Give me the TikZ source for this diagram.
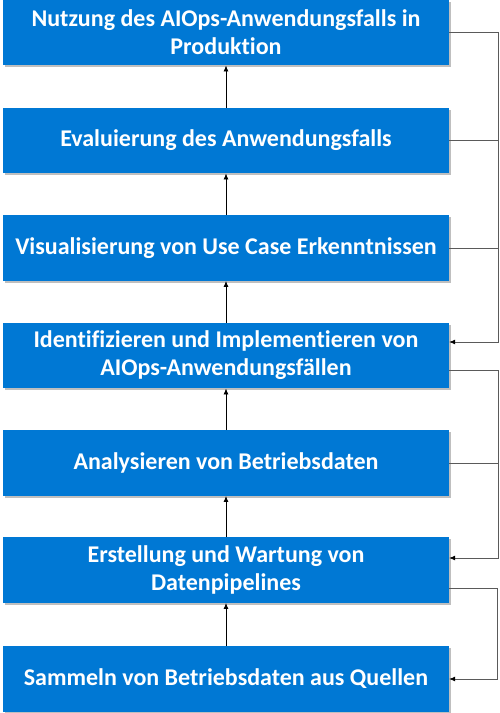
\documentclass[tikz,border=0pt]{standalone}
\usepackage{fontspec}
\setmainfont{Carlito}[Ligatures=CommonOff]
\usetikzlibrary{shadows,arrows.meta}
\definecolor{stepblue}{RGB}{0,120,212}
\definecolor{loopgray}{RGB}{90,90,90}
\tikzset{
  stepbox/.style={fill=stepblue, text=white, minimum width=446pt, minimum height=65.5pt,
    align=center, inner sep=0pt, font=\fontsize{24}{28}\selectfont\bfseries,
    drop shadow={shadow xshift=1.5pt, shadow yshift=-2pt, fill=black, opacity=0.25}},
  uparrow/.style={line width=0.8pt, black, -{Latex[length=6pt,width=5pt]}},
  loopline/.style={line width=0.7pt, loopgray},
  looparrow/.style={loopline, -{Latex[length=6pt,width=5pt,color=black]}},
}
\begin{document}
\begin{tikzpicture}[x=1pt, y=1pt]
\useasboundingbox (0,0) rectangle (500,-713);

\foreach \n/\y/\t in {1/-32.5/{Nutzung des AIOps-Anwendungsfalls in\\Produktion},
                      2/-140.5/{Evaluierung des Anwendungsfalls},
                      3/-248/{Visualisierung von Use Case Erkenntnissen},
                      4/-355.5/{Identifizieren und Implementieren von\\AIOps-Anwendungsfällen},
                      5/-463/{Analysieren von Betriebsdaten},
                      6/-570/{Erstellung und Wartung von\\Datenpipelines},
                      7/-679/{Sammeln von Betriebsdaten aus Quellen}}
	\node[stepbox] (b\n) at (226, \y) {\t};

% steps upwards
\foreach \a/\b in {7/6, 6/5, 5/4, 4/3, 3/2, 2/1}
	\draw[uparrow] (b\a) -- (b\b);

% feedback into the implementation step
\draw[looparrow] (b1.east) -- ++(49,0) |- ([yshift=13.5pt]b4.east);
\draw[loopline] (b2.east) -- ++(49,0);
\draw[loopline] (b3.east) -- ++(49,0);

% feedback into the pipelines
\draw[looparrow] ([yshift=-14.5pt]b4.east) -- ++(49,0) |- ([yshift=12pt]b6.east);
\draw[loopline] (b5.east) -- ++(49,0);

% feedback into the data sources
\draw[looparrow] ([yshift=-18pt]b6.east) -- ++(48,0) |- (b7.east);
\end{tikzpicture}
\end{document}
